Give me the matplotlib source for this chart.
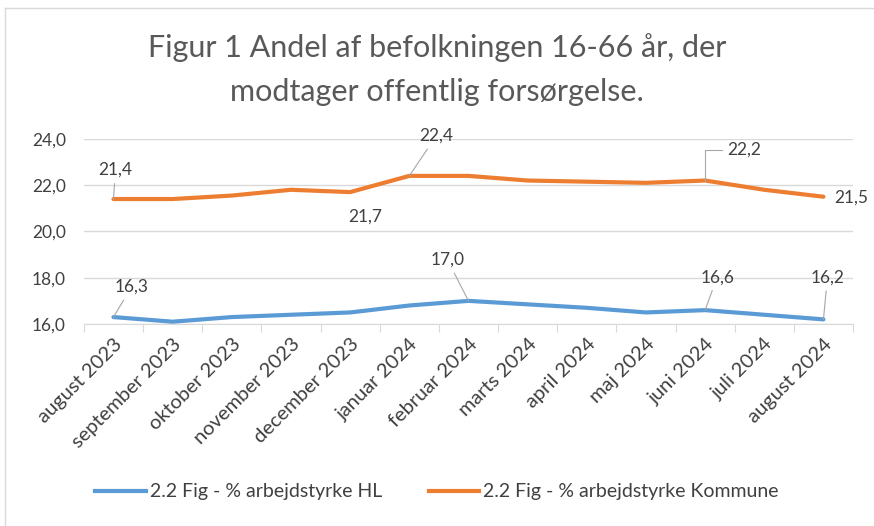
import matplotlib
matplotlib.use("Agg")
import matplotlib.pyplot as plt
from matplotlib.lines import Line2D

plt.rcParams['font.family'] = ['Lato', 'DejaVu Sans']

months = ['august 2023', 'september 2023', 'oktober 2023', 'november 2023',
          'december 2023', 'januar 2024', 'februar 2024', 'marts 2024',
          'april 2024', 'maj 2024', 'juni 2024', 'juli 2024', 'august 2024']
hl = [16.3, 16.1, 16.3, 16.4, 16.5, 16.8, 17.0, 16.85, 16.7, 16.5, 16.6, 16.4, 16.2]
kommune = [21.4, 21.4, 21.55, 21.8, 21.7, 22.4, 22.4, 22.2, 22.15, 22.1, 22.2, 21.8, 21.5]

hl_name = '2.2 Fig - % arbejdstyrke HL'
kom_name = '2.2 Fig - % arbejdstyrke Kommune'

blue = '#5B9BD5'
orange = '#ED7D31'
txt = '#404040'

fig = plt.figure(figsize=(8.74, 5.26), dpi=100)
ax = fig.add_axes([0.096, 0.384, 0.880, 0.352])

x = list(range(len(months)))
ax.plot(x, hl, color=blue, lw=3, solid_capstyle='round', zorder=3)
ax.plot(x, kommune, color=orange, lw=3, solid_capstyle='round', zorder=3)

ax.set_ylim(16, 24)
ax.set_xlim(-0.5, len(months) - 0.5)
ax.set_yticks([16, 18, 20, 22, 24])
ax.set_yticklabels(['16,0', '18,0', '20,0', '22,0', '24,0'], fontsize=12.5, color=txt)
ax.tick_params(axis='y', length=0, pad=13)
ax.grid(axis='y', color='#D9D9D9', lw=1)
ax.set_axisbelow(True)
for s in ['top', 'right', 'left']:
    ax.spines[s].set_visible(False)
ax.spines['bottom'].set_color('#D9D9D9')

# tick marks between categories, labels at the centres
ax.set_xticks([i - 0.5 for i in range(len(months) + 1)])
ax.set_xticklabels([])
ax.tick_params(axis='x', length=6, color='#D9D9D9', direction='out')
ax.set_xticks(x, minor=True)
ax.set_xticklabels(months, minor=True, rotation=45, ha='right', va='top',
                   rotation_mode='anchor', fontsize=14.5, color=txt)
ax.tick_params(axis='x', which='minor', length=0, pad=8)

# data labels (index, offset in pixels, elbow leader or not)
def label(series, i, dx, dy, leader=True, elbow=False):
    v = series[i]
    props = None
    if leader:
        props = dict(arrowstyle='-', color='#A6A6A6', lw=0.8, shrinkA=2, shrinkB=0)
        if elbow:
            props['connectionstyle'] = 'angle,angleA=0,angleB=90,rad=0'
    ax.annotate(f'{v:.1f}'.replace('.', ','), (i, v), xytext=(dx, dy),
                textcoords='offset pixels', ha='center', va='center',
                fontsize=12.5, color=txt, arrowprops=props, annotation_clip=False)

label(kommune, 0, 2, 29)
label(kommune, 4, 15, -25, leader=False)
label(kommune, 5, 27, 40)
label(kommune, 10, 39, 31, elbow=True)
label(kommune, 12, 28, -1, leader=False)
label(hl, 0, 18, 30)
label(hl, 6, -21, 41)
label(hl, 10, 12, 33)
label(hl, 12, 4, 42)

fig.text(0.5, 1 - 48 / 526, 'Figur 1 Andel af befolkningen 16-66 år, der',
         ha='center', va='center', fontsize=22, color='#595959')
fig.text(0.5, 1 - 92 / 526, 'modtager offentlig forsørgelse.',
         ha='center', va='center', fontsize=22, color='#595959')

handles = [Line2D([], [], color=blue, lw=3), Line2D([], [], color=orange, lw=3)]
fig.legend(handles, [hl_name, kom_name], loc='center', ncol=2,
           bbox_to_anchor=(0.5, 1 - 492 / 526), frameon=False, fontsize=14,
           handlelength=2.6, handletextpad=0.2, columnspacing=2.4,
           labelcolor=txt)

# chart frame (only left and top edges are visible in the original)
fig.add_artist(Line2D([5 / 874, 5 / 874], [0, 1 - 8 / 526], color='#D9D9D9', lw=1))
fig.add_artist(Line2D([5 / 874, 1], [1 - 8 / 526, 1 - 8 / 526], color='#D9D9D9', lw=1))

fig.savefig('out.png', dpi=100)
